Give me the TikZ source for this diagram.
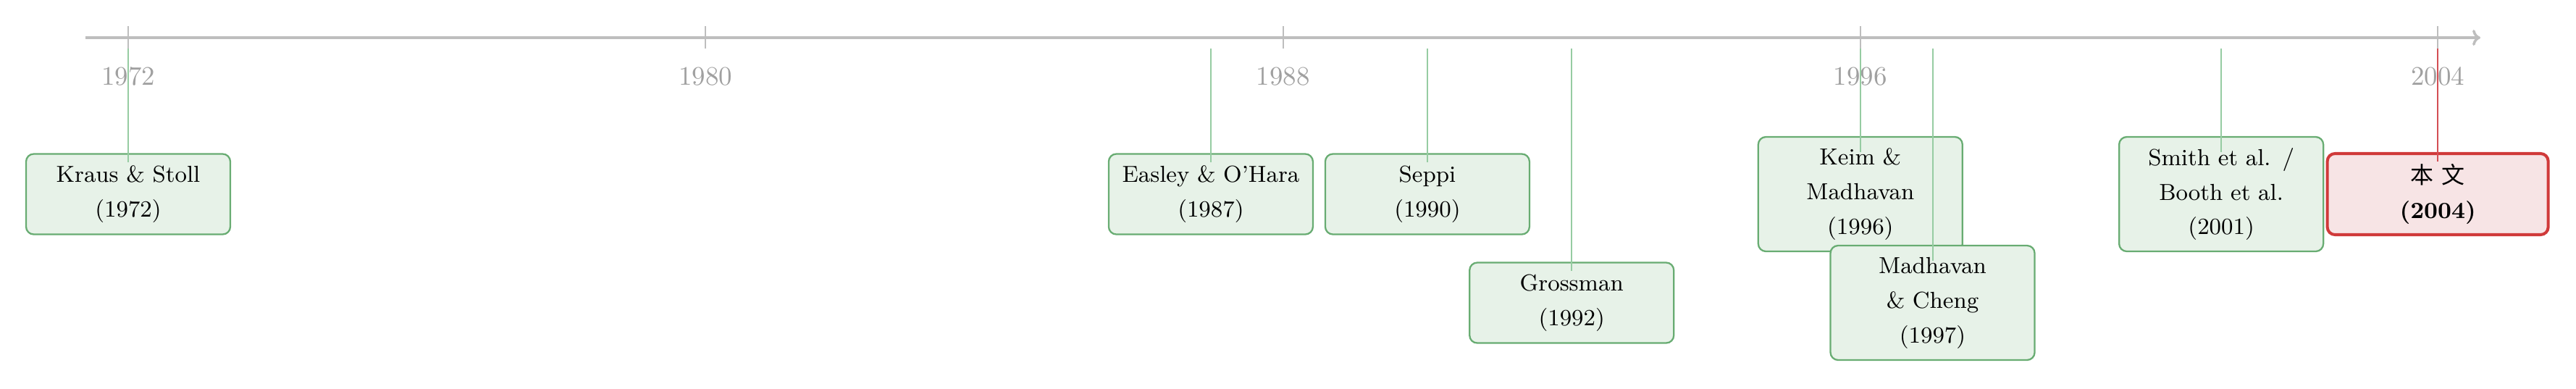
\documentclass[tikz,border=0pt]{standalone}
\usepackage{fontspec}
\newfontfamily\cjk{Noto Sans CJK SC}
\usetikzlibrary{arrows.meta}
\definecolor{axisgray}{RGB}{190,190,190}
\definecolor{labelgray}{RGB}{160,160,160}
\definecolor{gborder}{RGB}{104,172,114}
\definecolor{gfill}{RGB}{231,242,232}
\definecolor{gline}{RGB}{150,204,162}
\definecolor{rborder}{RGB}{208,58,58}
\definecolor{rfill}{RGB}{247,228,229}
\definecolor{rline}{RGB}{212,78,84}
\tikzset{
  axisline/.style={draw=axisgray, line width=1pt, -{To[length=1.1mm,width=2.2mm]}},
  tickline/.style={draw=axisgray, line width=0.6pt},
  yearlabel/.style={text=labelgray, font=\fontsize{10.5}{12.5}\selectfont, anchor=base, inner sep=0pt},
  gbox/.style={draw=gborder, fill=gfill, line width=0.65pt, rounded corners=3pt,
    text width=2.5cm, inner xsep=0.16cm, inner ysep=0pt, align=center,
    font=\fontsize{9.1}{13.65}\selectfont},
  rbox/.style={gbox, draw=rborder, fill=rfill, line width=1.15pt, text width=2.73cm},
  gconn/.style={draw=gline, line width=0.55pt},
  rconn/.style={draw=rline, line width=0.6pt},
}
\begin{document}
\begin{tikzpicture}
\useasboundingbox (0,0) rectangle (35.57,-5.36);
% axis
\coordinate (axs) at (1.18,-0.52);
\coordinate (axe) at (34.25,-0.52);
\draw[axisline] (axs) -- (axe);
% ticks and labels
\foreach \x/\y in {1.77/1972, 9.743/1980, 17.716/1988, 25.688/1996, 33.661/2004}{
  \draw[tickline] (\x,-0.36) -- (\x,-0.67);
  \node[yearlabel] (l\y) at (\x,-1.175) {\y};
}
% connector start points
\coordinate (c1972) at (1.77,-0.67);
\coordinate (c1987) at (16.719,-0.67);
\coordinate (c1990) at (19.709,-0.67);
\coordinate (c1992) at (21.702,-0.67);
\coordinate (c1996) at (25.688,-0.67);
\coordinate (c1997) at (26.685,-0.67);
\coordinate (c2001) at (30.671,-0.67);
\coordinate (c2004) at (33.661,-0.67);
% boxes
\node[gbox, minimum height=1.11cm] (kraus) at (1.77,-2.68) {Kraus \& Stoll\\(1972)};
\node[gbox, minimum height=1.11cm] (easley) at (16.719,-2.68) {Easley \& O'Hara\\(1987)};
\node[gbox, minimum height=1.11cm] (seppi) at (19.709,-2.68) {Seppi\\(1990)};
\node[gbox, minimum height=1.11cm] (gross) at (21.702,-4.18) {Grossman\\(1992)};
\node[gbox, minimum height=1.58cm] (keim) at (25.688,-2.68) {Keim \& Madhavan\\(1996)};
\node[gbox, minimum height=1.58cm] (madh) at (26.685,-4.18) {Madhavan \& Cheng\\(1997)};
\node[gbox, minimum height=1.58cm] (smith) at (30.671,-2.68) {Smith et al. / Booth et al.\\(2001)};
\node[rbox, minimum height=1.12cm] (this) at (33.661,-2.68) {{\cjk 本 文}\\\textbf{(2004)}};
% connectors
\draw[gconn] (c1972) -- ([yshift=-0.13cm]kraus.north);
\draw[gconn] (c1987) -- ([yshift=-0.13cm]easley.north);
\draw[gconn] (c1990) -- ([yshift=-0.13cm]seppi.north);
\draw[gconn] (c1992) -- ([yshift=-0.13cm]gross.north);
\draw[gconn] (c1996) -- ([yshift=-0.22cm]keim.north);
\draw[gconn] (c1997) -- ([yshift=-0.22cm]madh.north);
\draw[gconn] (c2001) -- ([yshift=-0.22cm]smith.north);
\draw[rconn] (c2004) -- ([yshift=-0.13cm]this.north);
\end{tikzpicture}
\end{document}
